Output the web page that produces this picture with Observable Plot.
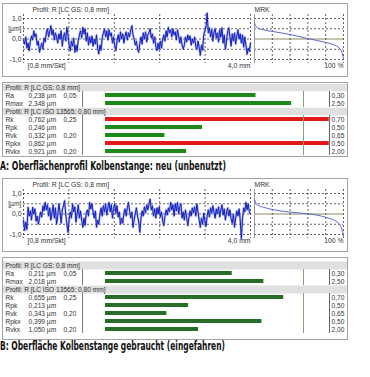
<!DOCTYPE html>
<html><head><meta charset="utf-8">
<script src="https://cdn.jsdelivr.net/npm/d3@7"></script>
<script src="https://cdn.jsdelivr.net/npm/@observablehq/plot@0.6"></script>
<style>
body{margin:0;background:#fff;}
#root{position:relative;width:370px;height:377px;overflow:hidden;background:#fff;font-family:"Liberation Sans",Arial,sans-serif;color:#333;}
.box{position:absolute;border:1px solid #a4a4a4;box-sizing:border-box;background:#fff;}
.cap{position:absolute;left:0;font-family:"Liberation Sans Narrow","DejaVu Sans Condensed","Arial Narrow",sans-serif;font-weight:bold;font-size:11.5px;line-height:12px;white-space:nowrap;transform-origin:0 50%;color:#111;}
#root svg{position:absolute;left:0;}
</style></head><body><div id="root"></div>
<script>
// ---- data ----
const profileLengthMm = 4.0;
const profileA = [-0.05,-0.25,0.1,-0.45,-0.2,-0.57,-0.1,0.15,-0.05,0.4,
 0.1,0.25,-0.3,-0.1,-0.65,-0.4,-0.2,-0.5,0.05,-0.15,
 0.3,0.5,0.1,0.35,0.65,0.2,0.45,-0.05,0.3,0.1,
 -0.2,0.25,0.0,0.4,-0.35,0.1,0.3,-0.1,0.57,0.2,
 -0.3,-0.57,-0.1,-0.35,0.05,-0.65,-0.3,-0.6,-0.05,0.2,
 0.4,0.05,0.57,0.25,0.5,-0.1,0.3,-0.3,0.1,-0.2,
 0.15,-0.35,0.0,-0.25,0.2,-0.45,-0.73,-0.3,-0.55,0.05,
 0.3,0.5,0.1,0.4,-0.05,0.45,0.15,0.3,-0.2,0.1,
 -0.35,-0.57,-0.1,0.2,-0.15,0.35,0.0,0.25,-0.2,0.15,
 0.35,-0.05,0.3,0.1,0.45,0.65,0.2,0.0,-0.3,-0.1,
 -0.5,-0.65,-0.2,0.1,-0.25,0.3,0.0,0.35,-0.15,0.2,
 0.3,0.5,0.05,0.25,-0.2,0.1,-0.35,-0.57,-0.2,-0.5,
 -0.1,-0.45,0.0,0.2,-0.1,0.4,0.1,0.57,0.3,0.45,
 0.1,0.5,0.2,0.35,-0.05,0.45,0.15,-0.2,0.1,-0.3,
 -0.5,-0.3,0.1,-0.15,0.2,-0.05,0.15,-0.3,0.0,-0.2,
 0.1,-0.35,-0.5,-0.1,-0.4,-0.8,-0.3,-0.55,0.2,0.4,
 0.6,1.27,0.3,0.55,0.1,0.45,-0.1,0.35,0.5,0.05,
 0.3,-0.15,0.45,0.1,0.55,-0.2,0.2,-0.5,-0.1,0.4,
 0.55,0.1,-0.35,0.25,-0.1,0.3,-0.25,0.15,0.45,0.0,
 0.25,-0.2,0.2,-0.4,0.1,-0.3,-0.75,-0.45,-0.6,-0.2];
const profileB = [-0.3,-0.8,-0.4,-0.75,0.33,-0.1,0.15,-0.3,0.33,0.0,
 0.25,-0.35,-0.1,-0.5,-0.2,0.1,-0.15,0.4,0.15,0.57,
 0.2,0.45,-0.1,0.3,-0.3,0.05,0.45,-0.2,0.3,-0.5,
 -0.1,0.5,0.1,-0.45,0.2,0.4,0.65,0.0,-0.5,-0.9,
 -0.3,0.1,-0.2,0.5,0.1,0.35,-0.4,0.0,0.45,-0.2,
 0.15,-0.3,-0.65,-0.2,-0.55,0.05,0.2,-0.1,0.57,0.25,
 0.5,0.1,-0.2,0.15,-0.65,-0.3,-0.5,0.0,0.3,-0.1,
 0.4,0.1,0.5,-0.05,0.3,0.57,0.1,0.45,-0.2,0.25,
 0.5,0.05,0.4,-0.15,0.1,-0.5,-0.2,-0.45,0.05,0.25,
 -0.1,0.3,0.57,0.15,-0.2,0.1,-0.65,-0.3,0.05,0.3,
 -0.1,-0.4,-0.9,-0.2,0.15,-0.1,0.35,0.05,0.45,0.2,
 0.5,0.73,0.2,0.4,-0.1,0.25,-0.2,0.3,0.0,0.35,
 -0.15,0.1,-0.35,-0.57,-0.1,0.2,-0.05,0.3,0.1,0.57,
 0.2,0.45,-0.1,0.5,0.15,0.57,0.0,0.35,0.5,-0.2,
 0.1,-0.3,0.2,-0.15,-0.57,-0.2,0.15,-0.1,0.3,0.05,
 0.35,-0.1,0.5,0.1,-0.3,-0.65,-0.2,-0.5,0.05,-0.35,
 -0.6,-0.1,0.2,-0.15,0.3,0.05,0.4,0.1,-0.2,0.25,
 0.0,0.35,-0.15,0.2,0.45,-0.05,0.25,-0.3,0.1,0.3,
 -0.1,0.2,-0.25,-0.45,0.0,-0.65,-0.2,0.15,-0.1,0.25,
 -0.3,-1.2,-0.2,0.3,0.1,0.57,0.2,0.5,0.1,0.0];
const mrkPctA = [0, 1, 3, 10, 20, 40, 60, 80, 90, 95, 98, 100];
const mrkHeightA = [0.80, 0.66, 0.56, 0.45, 0.37, 0.22, 0.02, -0.17, -0.30, -0.43, -0.63, -0.95];
const mrkPctB = [0, 3, 10, 20, 40, 60, 80, 93, 97, 99, 100];
const mrkHeightB = [0.70, 0.45, 0.33, 0.22, 0.09, 0.01, -0.16, -0.40, -0.60, -0.89, -1.10];
const yTickValues = [1, 0.5, 0, -1];
const yTickLabels = ["1,0", "[µm]", "0,0", "-1,0"];
const yGridValues = [1, 0.5, 0, -0.5, -1];
const xGridMm = [0, 0.8, 1.6, 2.4, 3.2, 4.0];
const mrkGridPct = [20, 40, 60, 80, 100];
const xEndLabel = "4,0 mm";
const xUnitLabel = "[0,8 mm/Skt]";
const mrkEndLabel = "100 %";
const mrkTitle = "MRK";
const paramNames = ["Ra", "Rmax", "Rk", "Rpk", "Rvk", "Rpkx", "Rvkx"];
const lowerLimits = ["0,05", "", "0,25", "", "0,20", "", "0,20"];
const upperLimits = [0.30, 2.50, 0.70, 0.50, 0.65, 0.50, 2.00];
const valuesA = [0.238, 2.348, 0.762, 0.246, 0.332, 0.862, 0.921];
const valuesB = [0.211, 2.018, 0.655, 0.213, 0.343, 0.399, 1.050];
const barPctA = [76, 94, 113, 49, 30, 113, 41];
const barPctB = [64, 80, 90, 42, 31, 79, 47];
const header1 = "Profil: R [LC GS: 0,8 mm]";
const header2 = "Profil: R [LC ISO 13565: 0,80 mm]";
const captionA = "A: Oberflächenprofil Kolbenstange: neu (unbenutzt)";
const captionB = "B: Oberfläche Kolbenstange gebraucht (eingefahren)";

// ---- drawing ----
const root = document.getElementById("root");
const comma = (v, d) => v.toFixed(d).replace(".", ",");
const dash = {stroke: "#3a3a3a", strokeDasharray: "2,2", strokeWidth: 0.8};
const baseStyle = {background: "transparent", overflow: "visible", fontSize: "6.8px", fontFamily: "Liberation Sans, Arial, sans-serif", color: "#333"};

function addBox(top, height) {
  const d = document.createElement("div");
  d.className = "box";
  Object.assign(d.style, {left: "2px", top: top + "px", width: "346px", height: height + "px"});
  root.appendChild(d);
}
function place(svg, top) { svg.style.top = top + "px"; root.appendChild(svg); }

function drawProfile(values, mrkPct, mrkH, offY) {
  const data = values.map((v, i) => ({x: i * profileLengthMm / (values.length - 1), y: v}));
  const ticks = yTickValues.map((v, i) => ({v, label: yTickLabels[i]}));
  const frame = {width: 370, height: 80, marginTop: 18, marginBottom: 21, y: {domain: [-1, 1], axis: null}, style: baseStyle};
  const prof = Plot.plot({...frame, marginLeft: 23, marginRight: 120,
    x: {domain: [0, profileLengthMm], axis: null},
    marks: [
      Plot.ruleY(yGridValues, dash),
      Plot.ruleX(xGridMm, {...dash, insetTop: -4, insetBottom: -4}),
      Plot.line(data, {x: "x", y: "y", stroke: "#6b7cf0", strokeWidth: 2.2, strokeOpacity: 0.55}),
      Plot.line(data, {x: "x", y: "y", stroke: "#1620b8", strokeWidth: 1}),
      Plot.text(ticks, {x: () => 0, y: "v", text: "label", textAnchor: "end", dx: -2}),
      Plot.text([{x: profileLengthMm, label: xEndLabel}], {x: "x", text: "label", frameAnchor: "bottom", textAnchor: "end", dy: 8}),
      Plot.text([xUnitLabel], {text: d => d, frameAnchor: "bottom-left", textAnchor: "start", dx: 4, dy: 8}),
      Plot.text([header1], {text: d => d, frameAnchor: "top-left", textAnchor: "start", dx: 9, dy: -11})
    ]});
  place(prof, offY);
  const mrk = mrkPct.map((p, i) => ({p, h: mrkH[i]}));
  const m = Plot.plot({...frame, marginLeft: 254, marginRight: 27,
    x: {domain: [0, 100], axis: null},
    marks: [
      Plot.ruleY(yGridValues.filter(v => v !== 0), dash),
      Plot.ruleY([0], {stroke: "#8c8a5e", strokeWidth: 1}),
      Plot.ruleX(mrkGridPct, {...dash, insetTop: -4, insetBottom: -4}),
      Plot.ruleX([0], {stroke: "#9a9a9a", insetTop: -4, insetBottom: -4}),
      Plot.line(mrk, {x: "p", y: "h", stroke: "#5a68d4", strokeWidth: 1, curve: "monotone-x"}),
      Plot.text([{x: 100, label: mrkEndLabel}], {x: "x", text: "label", frameAnchor: "bottom", textAnchor: "end", dy: 8}),
      Plot.text([mrkTitle], {text: d => d, frameAnchor: "top-left", textAnchor: "start", dy: -11})
    ]});
  place(m, offY);
}

function drawTable(vals, pcts, cfg) {
  const rows = paramNames.map((n, i) => ({name: n, value: vals[i], lo: lowerLimits[i], hi: upperLimits[i], pct: pcts[i]}));
  const headers = [{key: "h1", text: header1}, {key: "h2", text: header2}];
  const order = ["h1", "Ra", "Rmax", "h2", "Rk", "Rpk", "Rvk", "Rpkx", "Rvkx"];
  const y0 = cfg.bandStart - cfg.boxTop;
  const p = Plot.plot({width: 370, height: cfg.boxHeight, marginLeft: 3, marginRight: 23, marginTop: 0, marginBottom: 0,
    x: {domain: [0, 100], range: [105, 303], axis: null},
    y: {type: "band", domain: order, range: [y0, y0 + 9 * cfg.step], padding: 0, axis: null},
    style: {...baseStyle, fontSize: "6.6px"},
    marks: [
      Plot.ruleY(headers, {y: "key", stroke: "#e0e0e0", strokeWidth: cfg.step - 0.6}),
      Plot.text(headers, {y: "key", text: "text", frameAnchor: "left", textAnchor: "start", dx: 2}),
      Plot.text(rows, {y: "name", text: "name", frameAnchor: "left", textAnchor: "start", dx: 2}),
      Plot.text(rows, {y: "name", text: d => comma(d.value, 3) + " µm", frameAnchor: "left", textAnchor: "start", dx: 25}),
      Plot.text(rows, {y: "name", text: "lo", frameAnchor: "left", textAnchor: "start", dx: 60}),
      Plot.ruleX(rows, {x: () => 0, y1: "name", y2: "name", dx: -23, stroke: "#7a7a7a"}),
      Plot.barX(rows, {x1: () => 0, x2: "pct", y: "name", fill: d => d.value > d.hi ? "#e21a1a" : cfg.green, insetTop: cfg.inset, insetBottom: cfg.inset}),
      Plot.ruleX(rows, {x: () => 100, y1: "name", y2: "name", stroke: "#86a276"}),
      Plot.ruleX(rows, {x: () => 100, y1: "name", y2: "name", dx: 26, stroke: "#666"}),
      Plot.text(rows, {x: () => 100, y: "name", text: d => comma(d.hi, 2), textAnchor: "start", dx: 28})
    ]});
  place(p, cfg.boxTop);
}

function addCaption(text, cy, target) {
  const c = document.createElement("div");
  c.className = "cap";
  c.textContent = text;
  c.style.top = (cy - 6) + "px";
  root.appendChild(c);
  const w = c.getBoundingClientRect().width;
  c.style.transform = `scaleX(${target / w})`;
}

addBox(3, 74);
addBox(82, 75);
addBox(178, 74);
addBox(257, 83);
drawProfile(profileA, mrkPctA, mrkHeightA, 0);
drawTable(valuesA, barPctA, {boxTop: 82, boxHeight: 75, bandStart: 82, step: 8.2, inset: 2.0, green: "#1b8a1b"});
addCaption(captionA, 166, 226);
drawProfile(profileB, mrkPctB, mrkHeightB, 175);
drawTable(valuesB, barPctB, {boxTop: 257, boxHeight: 83, bandStart: 258, step: 8.68, inset: 2.0, green: "#276c27"});
addCaption(captionB, 346, 225);
</script></body></html>
